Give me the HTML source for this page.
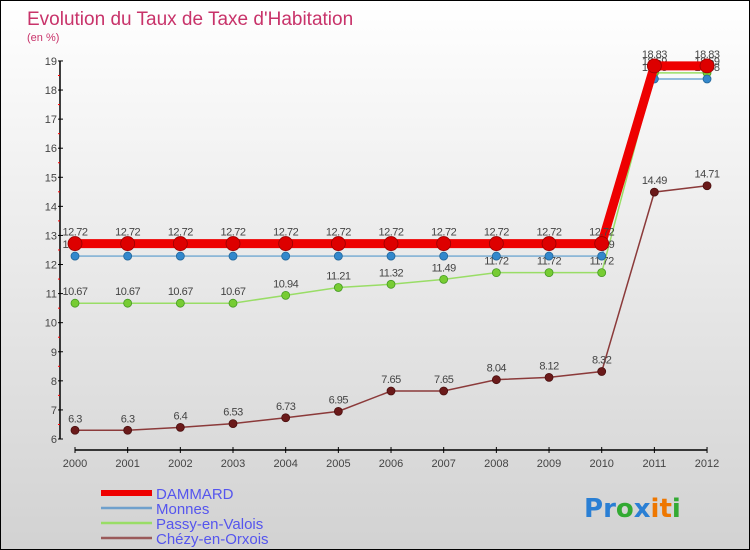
<!DOCTYPE html>
<html><head><meta charset="utf-8"><style>
body{margin:0;}
#c{width:750px;height:550px;position:relative;box-sizing:border-box;border:1px solid #000;background:linear-gradient(#fff,#d2d2d2);font-family:"Liberation Sans",sans-serif;overflow:hidden}
</style></head><body>
<div id="c">
<svg id="s" width="748" height="548"></svg>
</div>
<script>
const years=[2000,2001,2002,2003,2004,2005,2006,2007,2008,2009,2010,2011,2012];
const dammard=[12.72,12.72,12.72,12.72,12.72,12.72,12.72,12.72,12.72,12.72,12.72,18.83,18.83];
const monnes=[12.29,12.29,12.29,12.29,12.29,12.29,12.29,12.29,12.29,12.29,12.29,18.38,18.38];
const passy=[10.67,10.67,10.67,10.67,10.94,11.21,11.32,11.49,11.72,11.72,11.72,18.59,18.59];
const chezy=[6.3,6.3,6.4,6.53,6.73,6.95,7.65,7.65,8.04,8.12,8.32,14.49,14.71];
const yTicks=[6,7,8,9,10,11,12,13,14,15,16,17,18,19];
const NS='http://www.w3.org/2000/svg';
const s=document.getElementById('s');
const X=i=>74+i*52.67, Y=v=>438-(v-6)*29.08;
function el(t,a,p){const e=document.createElementNS(NS,t);for(const k in a)e.setAttribute(k,a[k]);(p||s).appendChild(e);return e;}
function tx(x,y,str,a){const e=el('text',Object.assign({x:x,y:y},a));e.textContent=str;return e;}
let t=tx(26,24,"Evolution du Taux de Taxe d'Habitation",{fill:'#c8336a','font-size':19});

t=tx(26,40,"(en %)",{fill:'#c8336a','font-size':11});

// axes
let ax=el('line',{x1:59,y1:Y(19),x2:59,y2:Y(6),stroke:'#000','stroke-width':1.5});

yTicks.forEach(v=>{el('line',{x1:57,x2:62,y1:Y(v),y2:Y(v),stroke:'#000'});
 t=tx(56,Y(v)+4,String(v),{fill:'#444','font-size':11,'text-anchor':'end'});
 
 if(v<19)el('line',{x1:57,x2:59,y1:Y(v+0.5),y2:Y(v+0.5),stroke:'#f00'});});
ax=el('line',{x1:X(0),y1:449,x2:X(12),y2:449,stroke:'#000','stroke-width':1.5});

years.forEach((y,i)=>{el('line',{x1:X(i),x2:X(i),y1:446,y2:452,stroke:'#000'});
 t=tx(X(i),466,String(y),{fill:'#444','font-size':11,'text-anchor':'middle'});
 });
function series(data,name,col,w,dot,r,dotStroke){
 const g=el('g',{});
 el('polyline',{points:data.map((v,i)=>X(i)+','+Y(v)).join(' '),fill:'none',stroke:col,'stroke-width':w},g);
 data.forEach((v,i)=>{const c=el('circle',{cx:X(i),cy:Y(v),r:r,fill:dot,stroke:dotStroke,'stroke-width':0.8},g);
  
  const l=tx(X(i),Y(v)-8,String(v),{fill:'#444','font-size':11,'text-anchor':'middle','letter-spacing':'-0.5'},g);
  });
}
series(chezy,'chezy-series','#8b3a3a',1.5,'#6b1a1a',4,'#4a0f0f');
series(passy,'passy-series','#99dd66',1.5,'#77cc33',4,'#449922');
series(monnes,'monnes-series','#5599cc',1.2,'#3388cc',4,'#226699');
series(dammard,'dammard-series','#ee0000',9,'#dd0000',7,'#990000');
const leg=[['DAMMARD','#ee0000',6],['Monnes','#6fa0cc',2.5],['Passy-en-Valois','#99dd66',2.5],['Chézy-en-Orxois','#9a5a5a',2.5]];
leg.forEach((l,i)=>{const g=el('g',{});
 const y=492+i*15;el('line',{x1:100,x2:151,y1:y,y2:y,stroke:l[1],'stroke-width':l[2]},g);
 tx(155,y+6,l[0],{fill:'#5555ee','font-size':15},g);});
const lg=tx(583,516,'',{'font-size':26,'font-weight':'bold','font-family':'"DejaVu Sans",sans-serif'});

[['P','#2a7fd4'],['r','#2a7fd4'],['o','#33aa33'],['x','#2a7fd4'],['i','#ee7700'],['t','#ee7700'],['i','#33aa33']].forEach(c=>{const sp=el('tspan',{fill:c[1]},lg);sp.textContent=c[0];});
</script>
</body></html>
